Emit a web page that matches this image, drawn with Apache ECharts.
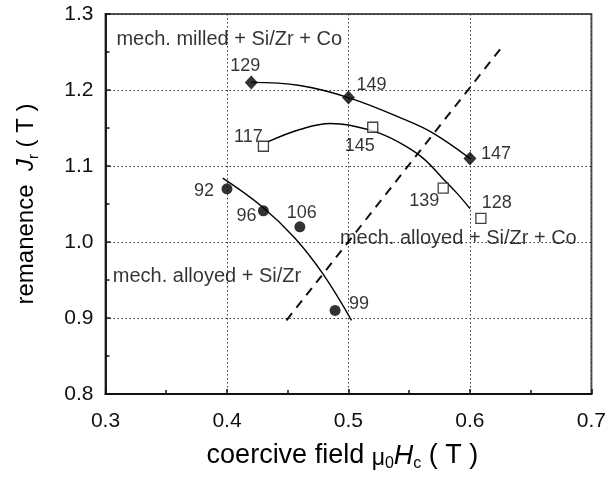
<!DOCTYPE html>
<html><head><meta charset="utf-8">
<script src="https://cdn.jsdelivr.net/npm/echarts@6/dist/echarts.min.js"></script>
<style>html,body{margin:0;padding:0;background:#fff}#c{width:609px;height:484px}</style>
</head><body><div id="c"></div>
<script>
// ---- data ----
const milledX = [0.42, 0.50, 0.60];
const milledY = [1.21, 1.19, 1.11];
const milledLabels = ['129', '149', '147'];

const alloyedCoX = [0.43, 0.52, 0.578, 0.609];
const alloyedCoY = [1.126, 1.151, 1.071, 1.031];
const alloyedCoLabels = ['117', '145', '139', '128'];

const alloyedX = [0.40, 0.43, 0.46, 0.489];
const alloyedY = [1.07, 1.041, 1.02, 0.91];
const alloyedLabels = ['92', '96', '106', '99'];

// fitted curves
const milledCurveX = [0.42, 0.46, 0.50, 0.548, 0.57, 0.60];
const milledCurveY = [1.21, 1.206, 1.19, 1.16, 1.143, 1.11];
const alloyedCoCurveX = [0.434, 0.46, 0.485, 0.50, 0.526, 0.545, 0.5616, 0.578, 0.59, 0.60];
const alloyedCoCurveY = [1.132, 1.148, 1.156, 1.154, 1.143, 1.128, 1.11, 1.083, 1.063, 1.044];
const alloyedCurveX = [0.3965, 0.4285, 0.456, 0.479, 0.5025];
const alloyedCurveY = [1.084, 1.047, 1.005, 0.958, 0.897];

// dashed guide line
const dashedX = [0.449, 0.628];
const dashedY = [0.897, 1.26];

// axes
const xMin = 0.3, xMax = 0.7, xStep = 0.1;
const yMin = 0.8, yMax = 1.3, yStep = 0.1;

// annotation texts
const annoTexts = ['mech. milled + Si/Zr + Co', 'mech. alloyed + Si/Zr + Co', 'mech. alloyed + Si/Zr'];
const annoX = [0.309, 0.493, 0.306];
const annoY = [1.266, 1.005, 0.954];

// ---- styling (label offsets in px) ----
const milledOff = [[-6, -16], [23, -13], [26, -4]];
const alloyedCoOff = [[-15, -9], [-13, 19], [-19, 13], [16, -15]];
const alloyedOff = [[-23, 2], [-17, 5], [2, -14], [24, -6]];

const FONT = '"Liberation Sans", Arial, Helvetica, sans-serif';
const INK = '#000';

function pts(xs, ys) { return xs.map((x, i) => [x, ys[i]]); }
function labeled(xs, ys, labels, offs) {
  return xs.map((x, i) => ({
    value: [x, ys[i]],
    label: { show: true, formatter: labels[i], position: 'inside', offset: offs[i],
             align: 'center', verticalAlign: 'middle', fontSize: 18, color: INK, fontFamily: FONT }
  }));
}
const curveStyle = { color: '#000', width: 1.4 };

const chart = echarts.init(document.getElementById('c'), null, { renderer: 'canvas' });
chart.setOption({
  animation: false,
  backgroundColor: '#fff',
  textStyle: { fontFamily: FONT },
  grid: { left: 105.5, right: 17.5, top: 14, bottom: 90, show: true, borderColor: '#555', borderWidth: 2, backgroundColor: 'transparent' },
  xAxis: {
    type: 'value', min: xMin, max: xMax, interval: xStep,
    axisLine: { show: true, onZero: false, lineStyle: { color: '#111', width: 1.8 } },
    axisTick: { show: true, inside: true, length: 5, lineStyle: { color: '#111', width: 1.5 } },
    minorTick: { show: true, splitNumber: 2, length: 4, lineStyle: { color: '#111', width: 1.5 } },
    splitLine: { show: true, lineStyle: { color: '#333', type: [1.5, 2.5], width: 1 } },
    axisLabel: { fontSize: 21, color: '#111', margin: 17, fontFamily: FONT, formatter: v => v.toFixed(1) },
    name: 'coercive field {mu|μ}{sub|0}{it|H}{sub|c}{n| ( T )}',
    nameLocation: 'middle', nameGap: 46,
    nameTextStyle: {
      fontSize: 27, color: INK, fontFamily: FONT, padding: [0, 12, 0, 0],
      rich: {
        mu: { fontSize: 23, color: INK, fontFamily: FONT, padding: [6, 0, 0, 0] },
        sub: { fontSize: 16, color: INK, fontFamily: FONT, padding: [16, 0, 0, 0] },
        it: { fontSize: 27, fontStyle: 'italic', color: INK, fontFamily: FONT },
        n: { fontSize: 27, color: INK, fontFamily: FONT }
      }
    }
  },
  yAxis: {
    type: 'value', min: yMin, max: yMax, interval: yStep,
    axisLine: { show: true, onZero: false, lineStyle: { color: '#111', width: 1.8 } },
    axisTick: { show: true, inside: true, length: 5, lineStyle: { color: '#111', width: 1.5 } },
    minorTick: { show: true, splitNumber: 2, length: 4, lineStyle: { color: '#111', width: 1.5 } },
    splitLine: { show: true, lineStyle: { color: '#333', type: [1.5, 2.5], width: 1 } },
    axisLabel: { fontSize: 21, color: '#111', margin: 12, fontFamily: FONT, padding: [7, 0, 0, 0], formatter: v => v.toFixed(1) },
    name: 'remanence  {it|J}{sub|r}{n| ( T )}',
    nameLocation: 'middle', nameGap: 64, nameRotate: 90,
    nameTextStyle: {
      fontSize: 24, color: INK, fontFamily: FONT,
      rich: {
        it: { fontSize: 24, fontStyle: 'italic', color: INK, fontFamily: FONT },
        sub: { fontSize: 15, color: INK, fontFamily: FONT, padding: [15, 0, 0, 0] },
        n: { fontSize: 24, color: INK, fontFamily: FONT }
      }
    }
  },
  series: [
    { type: 'line', data: pts(dashedX, dashedY), showSymbol: false, silent: true, z: 2,
      lineStyle: { color: '#111', width: 2, type: [9, 7] } },
    { type: 'line', data: pts(milledCurveX, milledCurveY), smooth: 0.4, showSymbol: false, silent: true, z: 2, lineStyle: curveStyle },
    { type: 'line', data: pts(alloyedCoCurveX, alloyedCoCurveY), smooth: 0.4, showSymbol: false, silent: true, z: 2, lineStyle: curveStyle },
    { type: 'line', data: pts(alloyedCurveX, alloyedCurveY), smooth: 0.4, showSymbol: false, silent: true, z: 2, lineStyle: curveStyle },
    { name: 'mech. milled + Si/Zr + Co', type: 'scatter', symbol: 'diamond', symbolSize: [13, 14], z: 5,
      itemStyle: { color: '#000' }, data: labeled(milledX, milledY, milledLabels, milledOff) },
    { name: 'mech. alloyed + Si/Zr + Co', type: 'scatter', symbol: 'rect', symbolSize: 10, z: 5,
      itemStyle: { color: '#fff', borderColor: '#111', borderWidth: 1.3 }, data: labeled(alloyedCoX, alloyedCoY, alloyedCoLabels, alloyedCoOff) },
    { name: 'mech. alloyed + Si/Zr', type: 'scatter', symbol: 'circle', symbolSize: 11, z: 5,
      itemStyle: { color: '#000' }, data: labeled(alloyedX, alloyedY, alloyedLabels, alloyedOff) },
    { type: 'scatter', symbolSize: 0, silent: true, z: 6,
      data: annoX.map((x, i) => ({ value: [x, annoY[i]], name: annoTexts[i] })),
      label: { show: true, position: 'inside', align: 'left', verticalAlign: 'middle', formatter: p => p.name,
               fontSize: 20, color: INK, fontFamily: FONT } }
  ]
});
</script>
</body></html>
